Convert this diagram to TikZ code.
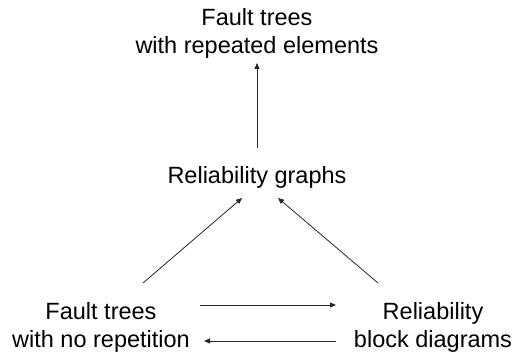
\documentclass[tikz,border=0pt]{standalone}
\usepackage{fontspec}
\setmainfont{Liberation Sans}
\usetikzlibrary{arrows.meta}
\begin{document}
\begin{tikzpicture}[x=1pt,y=-1pt,
  lbl/.style={align=center,inner sep=0pt,font=\fontsize{23.5}{28}\selectfont,text=black},
  conn/.style={draw=black!85,line width=0.8pt,-{Triangle[length=6pt,width=5pt]}}]
\useasboundingbox (0,0) rectangle (515,353);
\node[lbl] (top) at (257,33) {Fault trees\\with repeated elements};
\node[lbl] (rg) at (257,177) {Reliability graphs};
\node[lbl] (ft) at (101,327) {Fault trees\\with no repetition};
\node[lbl] (rbd) at (433,327) {Reliability\\block diagrams};
\coordinate (a1) at (257,148); \coordinate (a2) at (257,63);
\coordinate (b1) at (143,283); \coordinate (b2) at (242,198);
\coordinate (c1) at (378,283); \coordinate (c2) at (278,198);
\coordinate (d1) at (200,305); \coordinate (d2) at (336,305);
\coordinate (e1) at (336,341); \coordinate (e2) at (204,341);
\draw[conn] (a1) -- (a2);
\draw[conn] (b1) -- (b2);
\draw[conn] (c1) -- (c2);
\draw[conn] (d1) -- (d2);
\draw[conn] (e1) -- (e2);
\end{tikzpicture}
\end{document}
